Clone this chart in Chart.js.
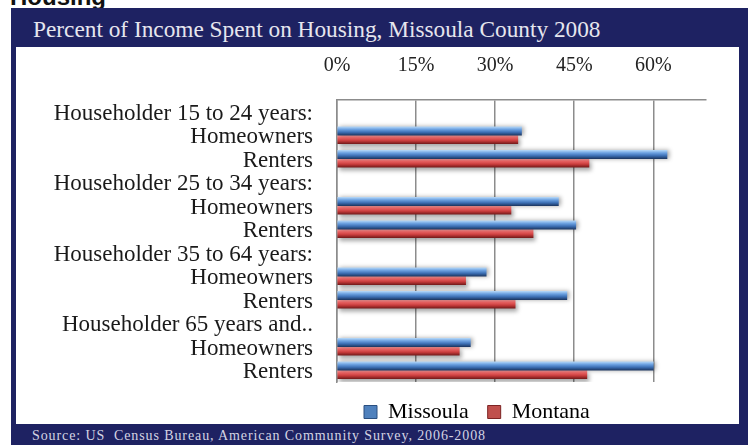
<!DOCTYPE html>
<html>
<head>
<meta charset="utf-8">
<script src="https://cdn.jsdelivr.net/npm/chart.js@4.4.0/dist/chart.umd.min.js"></script>
<style>
  html, body { margin: 0; padding: 0; background: #fff; width: 748px; height: 445px; overflow: hidden; position: relative; }
  #section { position: absolute; left: 10px; top: -15px; font: bold 24px 'Liberation Sans', Arial, sans-serif; line-height: 24px; color: #111; }
  #frame { position: absolute; left: 11px; top: 8px; width: 737px; height: 437px; background: #1e2262; }
  #title { position: absolute; left: 22px; top: 10px; font: 23.3px 'Liberation Serif', serif; line-height: 23px; color: #e6e6ee; white-space: nowrap; }
  #panel { position: absolute; left: 5px; top: 39px; width: 723px; height: 377px; background: #fff; }
  #chart { position: absolute; left: 0; top: 0; }
  #source { position: absolute; left: 21px; top: 421px; font: 14px 'Liberation Serif', serif; line-height: 14px; letter-spacing: 0.9px; color: #d4d4e2; white-space: nowrap; }
</style>
</head>
<body>
<div id="section">Housing</div>
<div id="frame">
  <div id="title">Percent of Income Spent on Housing, Missoula County 2008</div>
  <div id="panel"></div>
  <div id="source">Source: US&nbsp; Census Bureau, American Community Survey, 2006-2008</div>
</div>
<canvas id="chart" width="723" height="386" style="left:16px;top:47px"></canvas>
<script>
'use strict';

// Group headers carry no bars, only a label
const CATEGORIES = [
  'Householder 15 to 24 years:', 'Homeowners', 'Renters',
  'Householder 25 to 34 years:', 'Homeowners', 'Renters',
  'Householder 35 to 64 years:', 'Homeowners', 'Renters',
  'Householder 65 years and..', 'Homeowners', 'Renters',
];
const MISSOULA = [null, 35.0, 62.6, null, 42.0, 45.3, null, 28.3, 43.6, null, 25.3, 60.0];
const MONTANA  = [null, 34.3, 47.8, null, 33.0, 37.2, null, 24.4, 33.8, null, 23.2, 47.4];
const X_MAX = 70;
const X_STEP = 15;

const BAR = 8.5;
const SERIF = "'Liberation Serif', 'Times New Roman', serif";

const BLUE_STOPS = [[0, '#b3d6f7'], [0.3, '#6ea3e2'], [0.65, '#3c6fb4'], [1, '#1d3863']];
const RED_STOPS  = [[0, '#ffa3a3'], [0.3, '#ef6464'], [0.65, '#c73b3b'], [1, '#761b1b']];

// Glossy fill: a vertical gradient laid over each bar's own band
function glossy(stops, solid, slot) {
  return (c) => {
    const chart = c.chart;
    if (!chart.chartArea || c.type !== 'data') return solid;
    const mid = chart.scales.y.getPixelForValue(c.dataIndex);
    const top = slot === 0 ? mid - BAR : mid;
    const g = chart.ctx.createLinearGradient(0, top, 0, top + BAR);
    stops.forEach(([o, col]) => g.addColorStop(o, col));
    return g;
  };
}

const barShadow = {
  id: 'barShadow',
  beforeDatasetDraw(chart, args) {
    const ctx = chart.ctx;
    ctx.save();
    ctx.shadowColor = 'rgba(0,0,0,0.35)';
    ctx.shadowBlur = 4;
    ctx.shadowOffsetX = 2;
    ctx.shadowOffsetY = args.index === 1 ? 3 : 0;
  },
  afterDatasetDraw(chart) {
    chart.ctx.restore();
  },
};

// legend sits a little in from the plot's left edge
const legendNudge = {
  id: 'legendNudge',
  afterLayout(chart) {
    chart.legend.left += 8;
    chart.legend.right += 8;
  },
};

const LINE = '#8c8c8c';

new Chart(document.getElementById('chart'), {
  type: 'bar',
  data: {
    labels: CATEGORIES,
    datasets: [
      { label: 'Missoula', data: MISSOULA, backgroundColor: glossy(BLUE_STOPS, '#4f81bd', 0), barThickness: BAR },
      { label: 'Montana',  data: MONTANA,  backgroundColor: glossy(RED_STOPS, '#c0504d', 1), barThickness: BAR },
    ],
  },
  options: {
    indexAxis: 'y',
    responsive: false,
    animation: false,
    layout: { padding: { left: 0, right: 33, top: 0, bottom: 0 } },
    scales: {
      x: {
        position: 'top',
        min: 0,
        max: X_MAX,
        afterFit: (s) => { s.height = 53; },
        ticks: {
          stepSize: X_STEP,
          autoSkip: false,
          maxRotation: 0,
          padding: 22,
          color: '#222',
          font: { family: SERIF, size: 20 },
          callback: (v) => (v === X_MAX ? '' : `${v}%`),
        },
        grid: {
          drawTicks: false,
          lineWidth: 1.5,
          color: (c) => (c.tick && c.tick.value === X_MAX ? 'rgba(0,0,0,0)' : LINE),
        },
        border: { color: LINE, width: 1.5 },
      },
      y: {
        afterFit: (s) => { s.width = 321; },
        ticks: {
          autoSkip: false,
          padding: 24,
          labelOffset: 2,
          color: '#1a1a1a',
          font: { family: SERIF, size: 23 },
        },
        grid: { display: false, drawTicks: false },
        border: { color: LINE, width: 1.5 },
      },
    },
    plugins: {
      tooltip: { enabled: false },
      legend: {
        position: 'bottom',
        fullSize: false,
        align: 'start',
        labels: {
          padding: 19,
          boxWidth: 13,
          boxHeight: 13,
          color: '#1a1a1a',
          font: { family: SERIF, size: 22 },
          generateLabels: () => [
            { text: 'Missoula', fillStyle: '#4f81bd', strokeStyle: '#2a4f80', lineWidth: 1, datasetIndex: 0 },
            { text: 'Montana',  fillStyle: '#c0504d', strokeStyle: '#7d2424', lineWidth: 1, datasetIndex: 1 },
          ],
        },
      },
    },
  },
  plugins: [barShadow, legendNudge],
});
</script>
</body>
</html>
